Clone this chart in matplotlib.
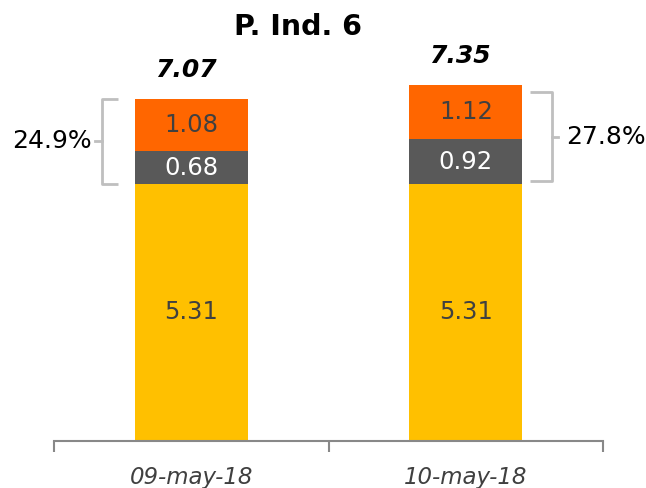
import matplotlib
matplotlib.use("Agg")
import matplotlib.pyplot as plt
from matplotlib.ticker import FixedLocator

categories = ["09-may-18", "10-may-18"]
base = [5.31, 5.31]
mid = [0.68, 0.92]
top = [1.08, 1.12]
totals = ["7.07", "7.35"]
share_labels = ["24.9%", "27.8%"]
title = "P. Ind. 6"

c_yellow = "#FFC000"
c_grey = "#595959"
c_orange = "#FF6600"

plt.rcParams['font.family'] = ['DejaVu Sans']

fig = plt.figure(figsize=(6.46, 4.88), dpi=100)
ax = fig.add_axes([54/646, (488-441)/488, 549/646, 381/488])

x = list(range(len(categories)))
w = 0.41
ax.bar(x, base, width=w, color=c_yellow)
b2 = [b for b in base]
ax.bar(x, mid, width=w, bottom=b2, color=c_grey)
b3 = [b + m for b, m in zip(base, mid)]
ax.bar(x, top, width=w, bottom=b3, color=c_orange)

for i in x:
    ax.text(i, base[i] / 2, f"{base[i]:.2f}", ha="center", va="center",
            fontsize=17.5, color="#404040")
    ax.text(i, base[i] + mid[i] / 2, f"{mid[i]:.2f}", ha="center", va="center",
            fontsize=17.5, color="white")
    ax.text(i, b3[i] + top[i] / 2, f"{top[i]:.2f}", ha="center", va="center",
            fontsize=17.5, color="#404040")
    tot = b3[i] + top[i]
    ax.text(i - 0.02, tot + 0.35, totals[i], ha="center", va="bottom",
            fontsize=18, fontweight="bold", fontstyle="italic", color="black")

# brackets
bc = "#BFBFBF"
lw = 2
# left bracket for first bar
y0 = base[0]
y1 = b3[0] + top[0]
xv, xa, xt = -0.324, -0.266, -0.35
ax.plot([xa, xv, xv, xa], [y1, y1, y0, y0], color=bc, lw=lw, solid_capstyle="butt")
ym = (y0 + y1) / 2
ax.plot([xt, xv], [ym, ym], color=bc, lw=lw)
ax.text(xt - 0.012, ym, share_labels[0], ha="right", va="center", fontsize=18, color="black")
# right bracket for second bar
y0 = base[1] + 0.06
y1 = b3[1] + top[1] - 0.14
xv, xa, xt = 1 + 0.313, 1 + 0.233, 1 + 0.335
ax.plot([xa, xv, xv, xa], [y1, y1, y0, y0], color=bc, lw=lw, solid_capstyle="butt")
ym = (y0 + y1) / 2
ax.plot([xv, xt], [ym, ym], color=bc, lw=lw)
ax.text(xt + 0.03, ym, share_labels[1], ha="left", va="center", fontsize=18, color="black")

ax.set_xlim(-0.5, 1.5)
ax.set_ylim(0, 381 / 48.4)
ax.set_xticks(x)
ax.set_xticklabels(categories, fontsize=16.5, fontstyle="italic", color="#404040")
ax.xaxis.set_minor_locator(FixedLocator([-0.5, 0.5, 1.5]))
ax.tick_params(axis="x", which="major", length=0, pad=18)
ax.tick_params(axis="x", which="minor", length=8, width=1.5, color="#888888")
ax.set_yticks([])
for s in ["top", "right", "left"]:
    ax.spines[s].set_visible(False)
ax.spines["bottom"].set_color("#888888")
ax.spines["bottom"].set_linewidth(1.5)

fig.text(298/646, 1 - 27/488, title, ha="center", va="center", fontsize=20.5,
         fontweight="bold", color="black")

fig.savefig("out.png", dpi=100)
